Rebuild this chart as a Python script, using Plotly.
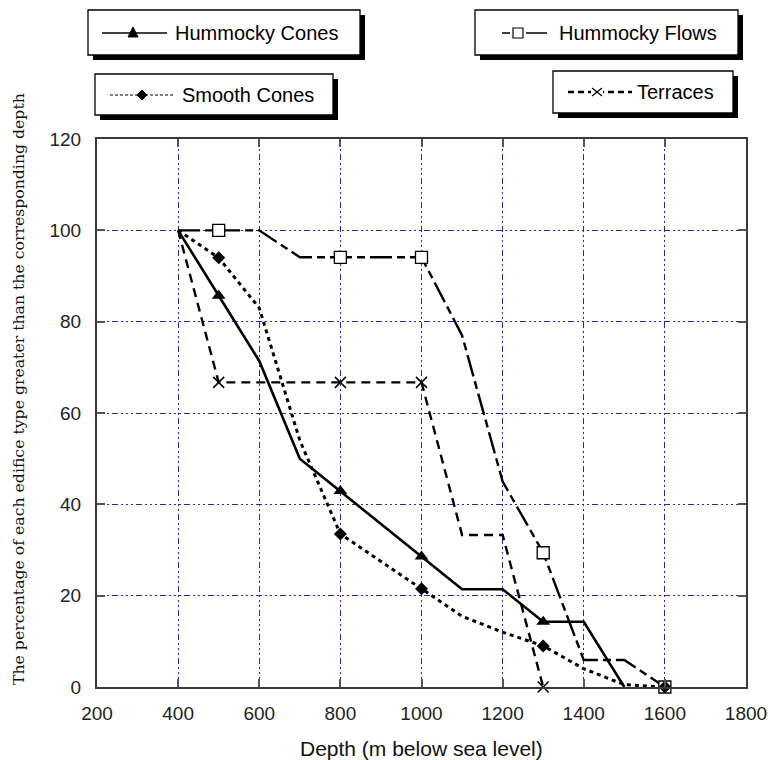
import plotly.graph_objects as go

# ---------------- data ----------------
hc_depth = [400, 500, 600, 700, 800, 1000, 1100, 1200, 1300, 1400, 1500]
hc_pct = [100, 85.7, 71.4, 50, 42.9, 28.6, 21.4, 21.4, 14.3, 14.3, 0]
hc_marked = [500, 800, 1000, 1300]

hf_depth = [400, 500, 600, 700, 800, 1000, 1100, 1200, 1300, 1400, 1500, 1600]
hf_pct = [100, 100, 100, 94.1, 94.1, 94.1, 77, 45, 29.4, 5.9, 5.9, 0]
hf_marked = [500, 800, 1000, 1300, 1600]

sc_depth = [400, 500, 600, 700, 800, 1000, 1100, 1200, 1300, 1400, 1500, 1600]
sc_pct = [100, 94, 83, 54, 33.5, 21.5, 15.5, 12, 9, 4, 0.5, 0]
sc_marked = [500, 800, 1000, 1300, 1600]

tr_depth = [400, 500, 800, 1000, 1100, 1200, 1300]
tr_pct = [100, 66.7, 66.7, 66.7, 33.3, 33.3, 0]
tr_marked = [500, 800, 1000, 1300]

x_ticks = [200, 400, 600, 800, 1000, 1200, 1400, 1600, 1800]
y_ticks = [0, 20, 40, 60, 80, 100, 120]

series_names = ["Hummocky Cones", "Hummocky Flows", "Smooth Cones", "Terraces"]
x_title = "Depth (m below sea level)"
y_title = "The percentage of each edifice type greater than the corresponding depth"

# ---------------- layout constants ----------------
W, H = 768, 760
L, R, T, B = 97, 22, 139, 73
PW = W - L - R
PH = H - T - B


def px(x):
    return (x - L) / PW


def py(y):
    return (H - B - y) / PH


def subset(depths, pcts, marked):
    xs, ys = [], []
    for d, p in zip(depths, pcts):
        if d in marked:
            xs.append(d)
            ys.append(p)
    return xs, ys


fig = go.Figure()

line_styles = [
    (series_names[2], sc_depth, sc_pct, "4px,4px", 3.0),
    (series_names[3], tr_depth, tr_pct, "9px,6px", 2.4),
    (series_names[1], hf_depth, hf_pct, "22px,5px,8px,5px", 2.4),
    (series_names[0], hc_depth, hc_pct, "solid", 2.6),
]
marker_styles = [
    (series_names[1], hf_depth, hf_pct, hf_marked,
     dict(symbol="square", size=12, color="white", line=dict(color="black", width=1.3))),
    (series_names[3], tr_depth, tr_pct, tr_marked,
     dict(symbol="x-thin", size=11, line=dict(color="black", width=1.5), color="black")),
    (series_names[2], sc_depth, sc_pct, sc_marked,
     dict(symbol="diamond", size=10, color="black")),
    (series_names[0], hc_depth, hc_pct, hc_marked,
     dict(symbol="triangle-up", size=12, color="black")),
]

for name, d, p, dash, w in line_styles:
    fig.add_trace(go.Scatter(x=d, y=p, mode="lines", name=name,
                             line=dict(color="black", width=w, dash=dash),
                             showlegend=False, cliponaxis=False))
for name, d, p, m, mk in marker_styles:
    mx, my = subset(d, p, m)
    fig.add_trace(go.Scatter(x=mx, y=my, mode="markers", name=name,
                             marker=mk, showlegend=False, cliponaxis=False))

grid = dict(showgrid=True, gridcolor="#2a2aa8", gridwidth=1.4,
            griddash="2px,3px,2px,3px,2px,3px,6px,3px")
axis_common = dict(showline=True, linecolor="#3a3a3a", linewidth=2,
                   mirror="ticks", ticks="inside", ticklen=8, tickwidth=1.5,
                   tickcolor="#555", zeroline=False, automargin=False,
                   tickfont=dict(family="Liberation Sans", size=19, color="#222"),
                   **grid)

fig.update_xaxes(range=[200, 1800], tickvals=x_ticks,
                 ticktext=[str(v) for v in x_ticks], ticklabelstandoff=8,
                 **axis_common)
fig.update_yaxes(range=[0, 120], tickvals=y_ticks,
                 ticktext=[str(v) for v in y_ticks], ticklabelstandoff=10,
                 **axis_common)

shapes = []
annotations = []


def seg(x0, x1, y, dash, lw):
    shapes.append(dict(type="line", xref="paper", yref="paper",
                       x0=px(x0), x1=px(x1), y0=py(y), y1=py(y),
                       line=dict(color="black", width=lw, dash=dash)))


def legend_box(x0, y0, x1, y1, segs, ym, kind, mxp, text, tx):
    sh = 5
    shapes.append(dict(type="rect", xref="paper", yref="paper",
                       x0=px(x0 + sh), x1=px(x1 + sh), y0=py(y1 + sh), y1=py(y0 + sh),
                       fillcolor="black", line=dict(width=0)))
    shapes.append(dict(type="rect", xref="paper", yref="paper",
                       x0=px(x0), x1=px(x1), y0=py(y1), y1=py(y0),
                       fillcolor="white", line=dict(color="black", width=1.3)))
    for s0, s1, dash, lw in segs:
        seg(s0, s1, ym, dash, lw)
    r = 5
    if kind == "triangle":
        path = "M {:.5f},{:.5f} L {:.5f},{:.5f} L {:.5f},{:.5f} Z".format(
            px(mxp), py(ym - r - 1), px(mxp - r), py(ym + r - 1), px(mxp + r), py(ym + r - 1))
        shapes.append(dict(type="path", xref="paper", yref="paper", path=path,
                           fillcolor="black", line=dict(color="black", width=1)))
    elif kind == "square":
        shapes.append(dict(type="rect", xref="paper", yref="paper",
                           x0=px(mxp - r), x1=px(mxp + r), y0=py(ym + r), y1=py(ym - r),
                           fillcolor="white", line=dict(color="black", width=1.2)))
    elif kind == "diamond":
        path = "M {:.5f},{:.5f} L {:.5f},{:.5f} L {:.5f},{:.5f} L {:.5f},{:.5f} Z".format(
            px(mxp), py(ym - r), px(mxp + r), py(ym), px(mxp), py(ym + r), px(mxp - r), py(ym))
        shapes.append(dict(type="path", xref="paper", yref="paper", path=path,
                           fillcolor="black", line=dict(color="black", width=1)))
    elif kind == "x":
        shapes.append(dict(type="rect", xref="paper", yref="paper",
                           x0=px(mxp - r - 1), x1=px(mxp + r + 1), y0=py(ym + r), y1=py(ym - r),
                           fillcolor="white", line=dict(width=0)))
        for a, b in ((-1, 1), (1, -1)):
            shapes.append(dict(type="line", xref="paper", yref="paper",
                               x0=px(mxp - r), x1=px(mxp + r), y0=py(ym + a * 4), y1=py(ym + b * 4),
                               line=dict(color="black", width=1.3)))
    annotations.append(dict(xref="paper", yref="paper", x=px(tx), y=py(ym),
                            xanchor="left", yanchor="middle", showarrow=False,
                            text=text, font=dict(family="Liberation Sans", size=20, color="black")))


legend_box(88, 10, 360, 55, [(102, 167, "solid", 1.5)], 33, "triangle", 133,
           series_names[0], 173)
legend_box(475, 10, 738, 55, [(502, 510, "solid", 1.5), (526, 547, "solid", 1.5)], 33,
           "square", 518, series_names[1], 557)
legend_box(95, 74, 333, 115, [(110, 175, "3px,2px", 1.2)], 95, "diamond", 142,
           series_names[2], 180)
legend_box(553, 71, 733, 113, [(568, 632, "6px,4px", 2.4)], 92, "x", 597,
           series_names[3], 635)

annotations.append(dict(xref="paper", yref="paper", x=0.5, y=py(748),
                        xanchor="center", yanchor="middle", showarrow=False,
                        text=x_title,
                        font=dict(family="Liberation Sans", size=21, color="#111")))
annotations.append(dict(xref="paper", yref="paper", x=px(18), y=py(389),
                        xanchor="center", yanchor="middle", showarrow=False,
                        textangle=-90, text=y_title,
                        font=dict(family="DejaVu Serif", size=15.7, color="#111")))

fig.update_layout(
    width=W, height=H,
    autosize=False,
    margin=dict(l=L, r=R, t=T, b=B, autoexpand=False),
    paper_bgcolor="white", plot_bgcolor="white",
    shapes=shapes, annotations=annotations,
    showlegend=False,
)

fig.write_html(
    "out.html",
    config={"displayModeBar": False, "responsive": False},
    post_script="document.body.style.margin='0px';document.body.style.overflow='hidden';",
)
